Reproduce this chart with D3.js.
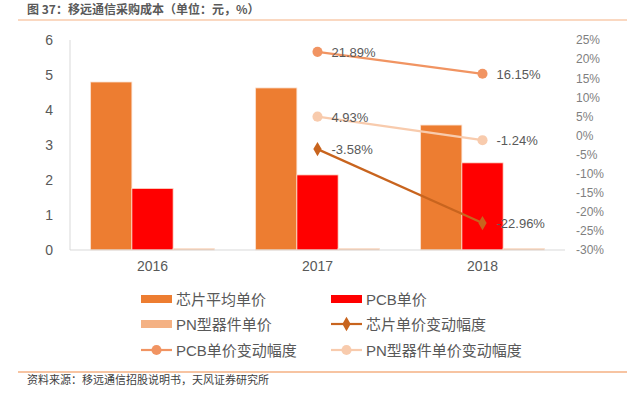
<!DOCTYPE html>
<html>
<head>
<meta charset="utf-8">
<script src="https://d3js.org/d3.v7.min.js"></script>
<style>
  body { margin: 0; background: #fff; }
  svg { font-family: "Liberation Sans", "Noto Sans CJK SC", sans-serif; }
</style>
</head>
<body>
<script>
// data
let years = ["2016", "2017", "2018"];
let chipPrice = [4.80, 4.63, 3.57];
let pcbPrice = [1.76, 2.145, 2.49];
let pnPrice = [0.04, 0.042, 0.041];
let chipChange = [null, -3.58, -22.96];
let pcbChange = [null, 21.89, 16.15];
let pnChange = [null, 4.93, -1.24];
let leftTicks = [0, 1, 2, 3, 4, 5, 6];
let rightTicks = [25, 20, 15, 10, 5, 0, -5, -10, -15, -20, -25, -30];

let w = 627, h = 399;
let plotLeft = 70, plotRight = 565, plotTop = 40, plotBottom = 250;

let svg = d3.select("body").append("svg")
    .attr("width", w)
    .attr("height", h);

// title + rules
svg.append("text")
    .attr("x", 27).attr("y", 14)
    .attr("font-family", "'Noto Sans CJK SC', sans-serif")
    .attr("font-size", "12px")
    .attr("font-weight", "bold")
    .attr("fill", "#595959")
    .text("图 37：移远通信采购成本（单位：元，%）");
svg.append("line")
    .attr("x1", 18).attr("x2", w).attr("y1", 20).attr("y2", 20)
    .attr("stroke", "#f8cbad").attr("stroke-width", 1.5);
svg.append("line")
    .attr("x1", 18).attr("x2", w).attr("y1", 372).attr("y2", 372)
    .attr("stroke", "#f4b183").attr("stroke-width", 1.5);
svg.append("text")
    .attr("x", 27).attr("y", 384)
    .attr("font-family", "'Noto Sans CJK SC', sans-serif")
    .attr("font-size", "11px")
    .attr("fill", "#404040")
    .text("资料来源：移远通信招股说明书，天风证券研究所");

// scales
let x = d3.scaleBand().domain(years).range([plotLeft, plotRight]).paddingInner(0).paddingOuter(0);
let inner = d3.scaleBand().domain([0, 1, 2]).range([0, x.bandwidth()]).paddingOuter(0.5).paddingInner(0);
let yL = d3.scaleLinear().domain([0, 6]).range([plotBottom, plotTop]);
let yR = d3.scaleLinear().domain([-30, 25]).range([plotBottom, plotTop]);

// axes
svg.append("line")
    .attr("x1", plotLeft).attr("x2", plotLeft).attr("y1", plotTop).attr("y2", plotBottom)
    .attr("stroke", "#d9d9d9");

let axL = svg.append("g").attr("transform", "translate(" + plotLeft + ",0)")
    .call(d3.axisLeft(yL).tickValues(leftTicks).tickSize(0).tickPadding(17)
        .tickFormat(d3.format("d")));
axL.select(".domain").remove();
axL.selectAll("text").attr("font-size", "14px").attr("fill", "#595959")
    .attr("font-family", "'Liberation Sans', sans-serif");

let axR = svg.append("g").attr("transform", "translate(" + plotRight + ",0)")
    .call(d3.axisRight(yR).tickValues(rightTicks).tickSize(0).tickPadding(11)
        .tickFormat(function (d) { return d + "%"; }));
axR.select(".domain").remove();
axR.selectAll("text").attr("font-size", "12px").attr("fill", "#7f7f7f")
    .attr("font-family", "'Liberation Sans', sans-serif");

let axX = svg.append("g").attr("transform", "translate(0," + plotBottom + ")")
    .call(d3.axisBottom(x).tickSize(0).tickPadding(11));
axX.select(".domain").remove();
axX.selectAll("text").attr("font-size", "14px").attr("fill", "#595959")
    .attr("font-family", "'Liberation Sans', sans-serif");

// bars
let barSeries = [
    { vals: chipPrice, color: "#ed7d31" },
    { vals: pcbPrice, color: "#ff0000" },
    { vals: pnPrice, color: "#f4b183" }
];
barSeries.forEach(function (s, si) {
    svg.selectAll(null).data(s.vals).enter().append("rect")
        .attr("x", function (d, i) { return x(years[i]) + inner(si); })
        .attr("width", inner.bandwidth())
        .attr("y", function (d) { return yL(d); })
        .attr("height", function (d) { return plotBottom - yL(d); })
        .attr("fill", s.color)
        .attr("stroke", "#fbe0cf")
        .attr("stroke-width", 0.8);
});

svg.append("line")
    .attr("x1", plotLeft).attr("x2", plotRight).attr("y1", plotBottom).attr("y2", plotBottom)
    .attr("stroke", "#d9d9d9");

// lines
let lineSeries = [
    { vals: pnChange, color: "#f8cbad", marker: "circle" },
    { vals: pcbChange, color: "#f19462", marker: "circle" },
    { vals: chipChange, color: "#c8641e", marker: "diamond" }
];
let cx = function (i) { return x(years[i]) + x.bandwidth() / 2; };
lineSeries.forEach(function (s) {
    let pts = s.vals.map(function (v, i) { return { v: v, i: i }; })
        .filter(function (p) { return p.v !== null; });
    svg.append("path")
        .datum(pts)
        .attr("fill", "none")
        .attr("stroke", s.color)
        .attr("stroke-width", 2.2)
        .attr("d", d3.line()
            .x(function (p) { return cx(p.i); })
            .y(function (p) { return yR(p.v); }));
    svg.selectAll(null).data(pts).enter().append("path")
        .attr("transform", function (p) { return "translate(" + cx(p.i) + "," + yR(p.v) + ")"; })
        .attr("d", d3.symbol().type(s.marker === "circle" ? d3.symbolCircle : d3.symbolDiamond)
            .size(s.marker === "circle" ? 80 : 60))
        .attr("fill", s.color);
    svg.selectAll(null).data(pts).enter().append("text")
        .attr("x", function (p) { return cx(p.i) + 14; })
        .attr("y", function (p) { return yR(p.v) + 5; })
        .attr("font-size", "13px")
        .attr("fill", "#595959")
        .text(function (p) { return p.v.toFixed(2) + "%"; });
});

// legend
let legend = [
    { name: "芯片平均单价", color: "#ed7d31", type: "bar" },
    { name: "PCB单价", color: "#ff0000", type: "bar" },
    { name: "PN型器件单价", color: "#f4b183", type: "bar" },
    { name: "芯片单价变动幅度", color: "#c8641e", type: "diamond" },
    { name: "PCB单价变动幅度", color: "#f19462", type: "circle" },
    { name: "PN型器件单价变动幅度", color: "#f8cbad", type: "circle" }
];
legend.forEach(function (l, i) {
    let lx = i % 2 === 0 ? 141 : 331;
    let ly = [299, 324, 350][Math.floor(i / 2)];
    let g = svg.append("g").attr("transform", "translate(" + lx + "," + ly + ")");
    if (l.type === "bar") {
        g.append("rect").attr("x", 0).attr("y", -4).attr("width", 31).attr("height", 8)
            .attr("fill", l.color);
    } else {
        g.append("line").attr("x1", 0).attr("x2", 31).attr("y1", 0).attr("y2", 0)
            .attr("stroke", l.color).attr("stroke-width", 2.2);
        g.append("path").attr("transform", "translate(15.5,0)")
            .attr("d", d3.symbol().type(l.type === "circle" ? d3.symbolCircle : d3.symbolDiamond)
                .size(l.type === "circle" ? 80 : 60))
            .attr("fill", l.color);
    }
    g.append("text").attr("x", 35).attr("y", 5.5)
        .attr("font-family", "'Liberation Sans', 'Noto Sans CJK SC', sans-serif")
        .attr("font-size", "15px")
        .attr("fill", "#595959")
        .text(l.name);
});
</script>
</body>
</html>
